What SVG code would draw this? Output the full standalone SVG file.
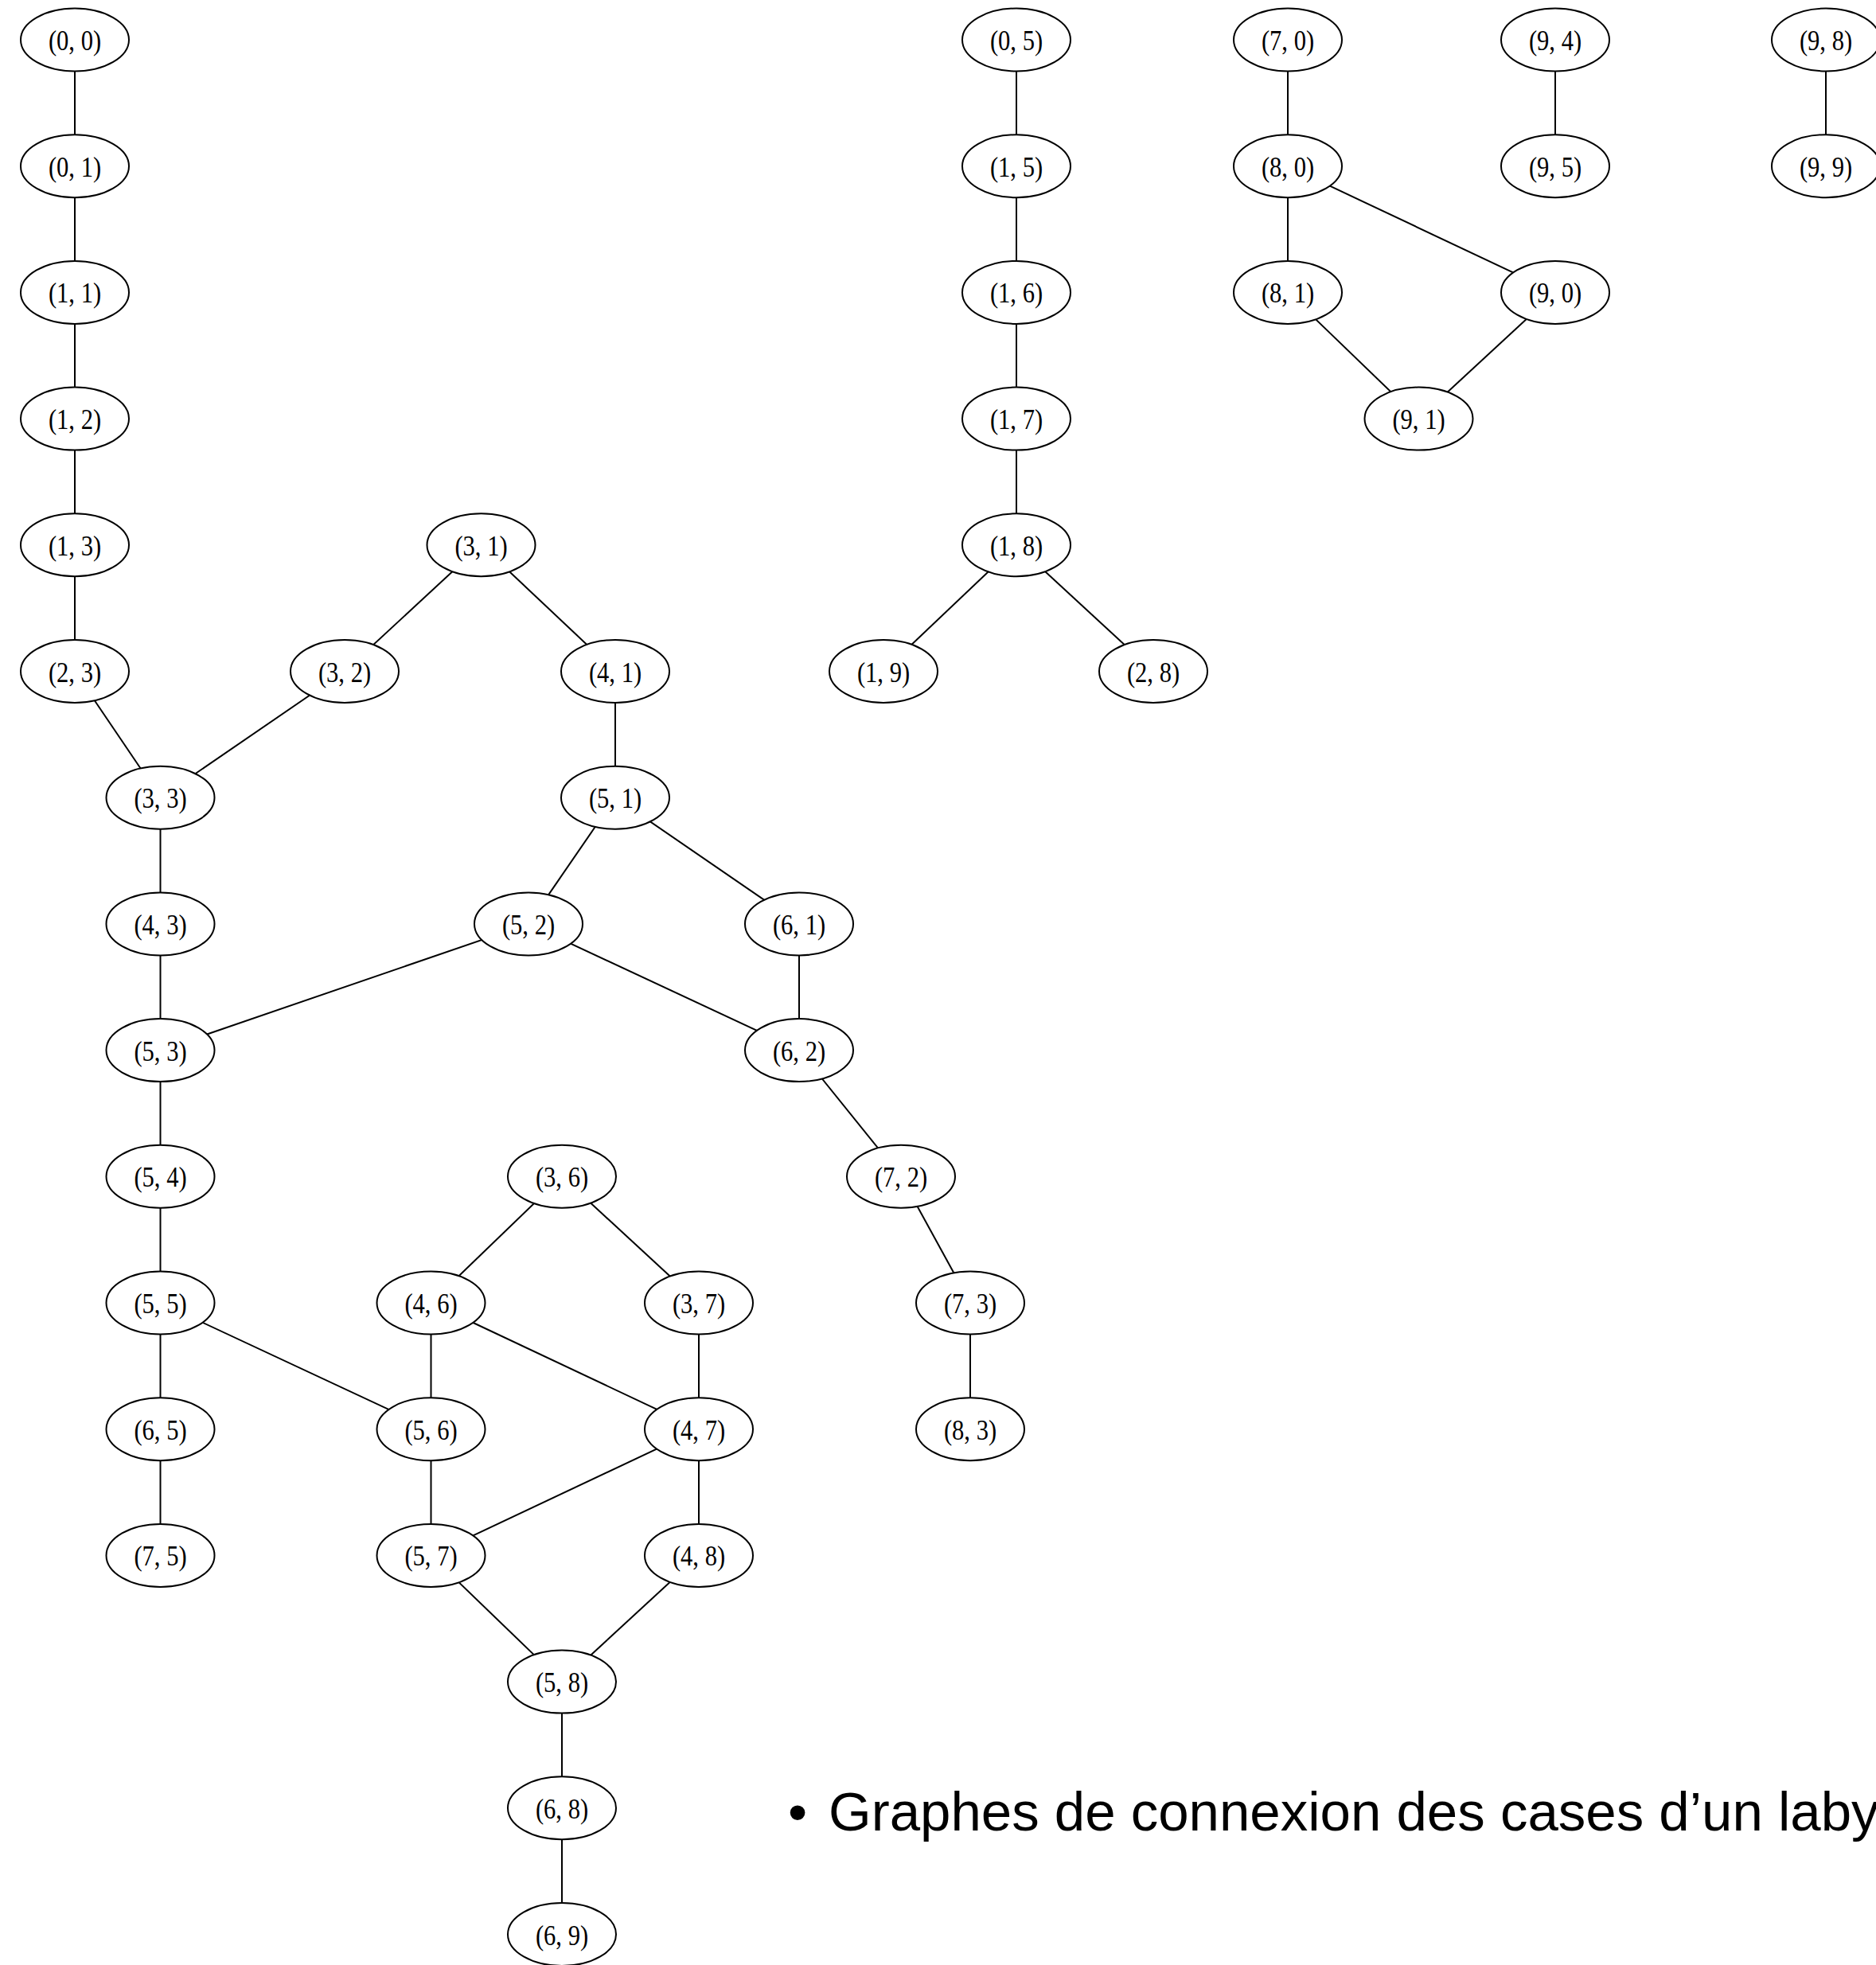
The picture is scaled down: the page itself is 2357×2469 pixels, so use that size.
<svg xmlns="http://www.w3.org/2000/svg" width="2357" height="2469" viewBox="0 0 2357 2469">
<style>
.e line{stroke:#000;stroke-width:2}
.n text{font-family:"Liberation Serif","Times New Roman",serif;font-size:36px;text-anchor:middle;fill:#000}
.cap{font-family:"Liberation Sans",Arial,sans-serif;font-size:69px;fill:#000}
</style>
<defs>
<ellipse id="el" cx="0" cy="0" rx="68" ry="39.5" fill="#fff" stroke="#000" stroke-width="2"/>
</defs>
<rect width="2357" height="2469" fill="#fff"/>
<g id="connectors" class="e">
<line x1="94" y1="50" x2="94" y2="208.7"/>
<line x1="94" y1="208.7" x2="94" y2="367.4"/>
<line x1="94" y1="367.4" x2="94" y2="526.1"/>
<line x1="94" y1="526.1" x2="94" y2="684.8"/>
<line x1="94" y1="684.8" x2="94" y2="843.5"/>
<line x1="94" y1="843.5" x2="201.5" y2="1002.2"/>
<line x1="604.5" y1="684.8" x2="433" y2="843.5"/>
<line x1="604.5" y1="684.8" x2="773" y2="843.5"/>
<line x1="433" y1="843.5" x2="201.5" y2="1002.2"/>
<line x1="773" y1="843.5" x2="773" y2="1002.2"/>
<line x1="201.5" y1="1002.2" x2="201.5" y2="1160.9"/>
<line x1="773" y1="1002.2" x2="664" y2="1160.9"/>
<line x1="773" y1="1002.2" x2="1004" y2="1160.9"/>
<line x1="201.5" y1="1160.9" x2="201.5" y2="1319.6"/>
<line x1="664" y1="1160.9" x2="201.5" y2="1319.6"/>
<line x1="664" y1="1160.9" x2="1004" y2="1319.6"/>
<line x1="1004" y1="1160.9" x2="1004" y2="1319.6"/>
<line x1="201.5" y1="1319.6" x2="201.5" y2="1478.3"/>
<line x1="1004" y1="1319.6" x2="1132" y2="1478.3"/>
<line x1="201.5" y1="1478.3" x2="201.5" y2="1637"/>
<line x1="706" y1="1478.3" x2="541.5" y2="1637"/>
<line x1="706" y1="1478.3" x2="878" y2="1637"/>
<line x1="1132" y1="1478.3" x2="1219" y2="1637"/>
<line x1="201.5" y1="1637" x2="201.5" y2="1795.7"/>
<line x1="201.5" y1="1637" x2="541.5" y2="1795.7"/>
<line x1="541.5" y1="1637" x2="541.5" y2="1795.7"/>
<line x1="541.5" y1="1637" x2="878" y2="1795.7"/>
<line x1="878" y1="1637" x2="878" y2="1795.7"/>
<line x1="1219" y1="1637" x2="1219" y2="1795.7"/>
<line x1="201.5" y1="1795.7" x2="201.5" y2="1954.4"/>
<line x1="541.5" y1="1795.7" x2="541.5" y2="1954.4"/>
<line x1="878" y1="1795.7" x2="541.5" y2="1954.4"/>
<line x1="878" y1="1795.7" x2="878" y2="1954.4"/>
<line x1="541.5" y1="1954.4" x2="706" y2="2113.1"/>
<line x1="878" y1="1954.4" x2="706" y2="2113.1"/>
<line x1="706" y1="2113.1" x2="706" y2="2271.8"/>
<line x1="706" y1="2271.8" x2="706" y2="2430.5"/>
<line x1="1277" y1="50" x2="1277" y2="208.7"/>
<line x1="1277" y1="208.7" x2="1277" y2="367.4"/>
<line x1="1277" y1="367.4" x2="1277" y2="526.1"/>
<line x1="1277" y1="526.1" x2="1277" y2="684.8"/>
<line x1="1277" y1="684.8" x2="1110" y2="843.5"/>
<line x1="1277" y1="684.8" x2="1449" y2="843.5"/>
<line x1="1618" y1="50" x2="1618" y2="208.7"/>
<line x1="1618" y1="208.7" x2="1618" y2="367.4"/>
<line x1="1618" y1="208.7" x2="1954" y2="367.4"/>
<line x1="1618" y1="367.4" x2="1782.5" y2="526.1"/>
<line x1="1954" y1="367.4" x2="1782.5" y2="526.1"/>
<line x1="1954" y1="50" x2="1954" y2="208.7"/>
<line x1="2294" y1="50" x2="2294" y2="208.7"/>
</g>
<g id="nodes" class="n">
<g id="n0_0" transform="translate(94,50)"><use href="#el"/><text y="13" transform="scale(0.85,1)">(0, 0)</text></g>
<g id="n0_1" transform="translate(94,208.7)"><use href="#el"/><text y="13" transform="scale(0.85,1)">(0, 1)</text></g>
<g id="n1_1" transform="translate(94,367.4)"><use href="#el"/><text y="13" transform="scale(0.85,1)">(1, 1)</text></g>
<g id="n1_2" transform="translate(94,526.1)"><use href="#el"/><text y="13" transform="scale(0.85,1)">(1, 2)</text></g>
<g id="n1_3" transform="translate(94,684.8)"><use href="#el"/><text y="13" transform="scale(0.85,1)">(1, 3)</text></g>
<g id="n2_3" transform="translate(94,843.5)"><use href="#el"/><text y="13" transform="scale(0.85,1)">(2, 3)</text></g>
<g id="n3_3" transform="translate(201.5,1002.2)"><use href="#el"/><text y="13" transform="scale(0.85,1)">(3, 3)</text></g>
<g id="n4_3" transform="translate(201.5,1160.9)"><use href="#el"/><text y="13" transform="scale(0.85,1)">(4, 3)</text></g>
<g id="n5_3" transform="translate(201.5,1319.6)"><use href="#el"/><text y="13" transform="scale(0.85,1)">(5, 3)</text></g>
<g id="n5_4" transform="translate(201.5,1478.3)"><use href="#el"/><text y="13" transform="scale(0.85,1)">(5, 4)</text></g>
<g id="n5_5" transform="translate(201.5,1637)"><use href="#el"/><text y="13" transform="scale(0.85,1)">(5, 5)</text></g>
<g id="n6_5" transform="translate(201.5,1795.7)"><use href="#el"/><text y="13" transform="scale(0.85,1)">(6, 5)</text></g>
<g id="n7_5" transform="translate(201.5,1954.4)"><use href="#el"/><text y="13" transform="scale(0.85,1)">(7, 5)</text></g>
<g id="n3_1" transform="translate(604.5,684.8)"><use href="#el"/><text y="13" transform="scale(0.85,1)">(3, 1)</text></g>
<g id="n3_2" transform="translate(433,843.5)"><use href="#el"/><text y="13" transform="scale(0.85,1)">(3, 2)</text></g>
<g id="n4_1" transform="translate(773,843.5)"><use href="#el"/><text y="13" transform="scale(0.85,1)">(4, 1)</text></g>
<g id="n5_1" transform="translate(773,1002.2)"><use href="#el"/><text y="13" transform="scale(0.85,1)">(5, 1)</text></g>
<g id="n5_2" transform="translate(664,1160.9)"><use href="#el"/><text y="13" transform="scale(0.85,1)">(5, 2)</text></g>
<g id="n6_1" transform="translate(1004,1160.9)"><use href="#el"/><text y="13" transform="scale(0.85,1)">(6, 1)</text></g>
<g id="n6_2" transform="translate(1004,1319.6)"><use href="#el"/><text y="13" transform="scale(0.85,1)">(6, 2)</text></g>
<g id="n7_2" transform="translate(1132,1478.3)"><use href="#el"/><text y="13" transform="scale(0.85,1)">(7, 2)</text></g>
<g id="n7_3" transform="translate(1219,1637)"><use href="#el"/><text y="13" transform="scale(0.85,1)">(7, 3)</text></g>
<g id="n8_3" transform="translate(1219,1795.7)"><use href="#el"/><text y="13" transform="scale(0.85,1)">(8, 3)</text></g>
<g id="n3_6" transform="translate(706,1478.3)"><use href="#el"/><text y="13" transform="scale(0.85,1)">(3, 6)</text></g>
<g id="n4_6" transform="translate(541.5,1637)"><use href="#el"/><text y="13" transform="scale(0.85,1)">(4, 6)</text></g>
<g id="n3_7" transform="translate(878,1637)"><use href="#el"/><text y="13" transform="scale(0.85,1)">(3, 7)</text></g>
<g id="n5_6" transform="translate(541.5,1795.7)"><use href="#el"/><text y="13" transform="scale(0.85,1)">(5, 6)</text></g>
<g id="n4_7" transform="translate(878,1795.7)"><use href="#el"/><text y="13" transform="scale(0.85,1)">(4, 7)</text></g>
<g id="n5_7" transform="translate(541.5,1954.4)"><use href="#el"/><text y="13" transform="scale(0.85,1)">(5, 7)</text></g>
<g id="n4_8" transform="translate(878,1954.4)"><use href="#el"/><text y="13" transform="scale(0.85,1)">(4, 8)</text></g>
<g id="n5_8" transform="translate(706,2113.1)"><use href="#el"/><text y="13" transform="scale(0.85,1)">(5, 8)</text></g>
<g id="n6_8" transform="translate(706,2271.8)"><use href="#el"/><text y="13" transform="scale(0.85,1)">(6, 8)</text></g>
<g id="n6_9" transform="translate(706,2430.5)"><use href="#el"/><text y="13" transform="scale(0.85,1)">(6, 9)</text></g>
<g id="n0_5" transform="translate(1277,50)"><use href="#el"/><text y="13" transform="scale(0.85,1)">(0, 5)</text></g>
<g id="n1_5" transform="translate(1277,208.7)"><use href="#el"/><text y="13" transform="scale(0.85,1)">(1, 5)</text></g>
<g id="n1_6" transform="translate(1277,367.4)"><use href="#el"/><text y="13" transform="scale(0.85,1)">(1, 6)</text></g>
<g id="n1_7" transform="translate(1277,526.1)"><use href="#el"/><text y="13" transform="scale(0.85,1)">(1, 7)</text></g>
<g id="n1_8" transform="translate(1277,684.8)"><use href="#el"/><text y="13" transform="scale(0.85,1)">(1, 8)</text></g>
<g id="n1_9" transform="translate(1110,843.5)"><use href="#el"/><text y="13" transform="scale(0.85,1)">(1, 9)</text></g>
<g id="n2_8" transform="translate(1449,843.5)"><use href="#el"/><text y="13" transform="scale(0.85,1)">(2, 8)</text></g>
<g id="n7_0" transform="translate(1618,50)"><use href="#el"/><text y="13" transform="scale(0.85,1)">(7, 0)</text></g>
<g id="n8_0" transform="translate(1618,208.7)"><use href="#el"/><text y="13" transform="scale(0.85,1)">(8, 0)</text></g>
<g id="n8_1" transform="translate(1618,367.4)"><use href="#el"/><text y="13" transform="scale(0.85,1)">(8, 1)</text></g>
<g id="n9_0" transform="translate(1954,367.4)"><use href="#el"/><text y="13" transform="scale(0.85,1)">(9, 0)</text></g>
<g id="n9_1" transform="translate(1782.5,526.1)"><use href="#el"/><text y="13" transform="scale(0.85,1)">(9, 1)</text></g>
<g id="n9_4" transform="translate(1954,50)"><use href="#el"/><text y="13" transform="scale(0.85,1)">(9, 4)</text></g>
<g id="n9_5" transform="translate(1954,208.7)"><use href="#el"/><text y="13" transform="scale(0.85,1)">(9, 5)</text></g>
<g id="n9_8" transform="translate(2294,50)"><use href="#el"/><text y="13" transform="scale(0.85,1)">(9, 8)</text></g>
<g id="n9_9" transform="translate(2294,208.7)"><use href="#el"/><text y="13" transform="scale(0.85,1)">(9, 9)</text></g>
</g>
<text id="caption" class="cap" y="2300"><tspan x="990">•</tspan><tspan x="1041">Graphes de connexion des cases d’un laby</tspan></text>
</svg>
